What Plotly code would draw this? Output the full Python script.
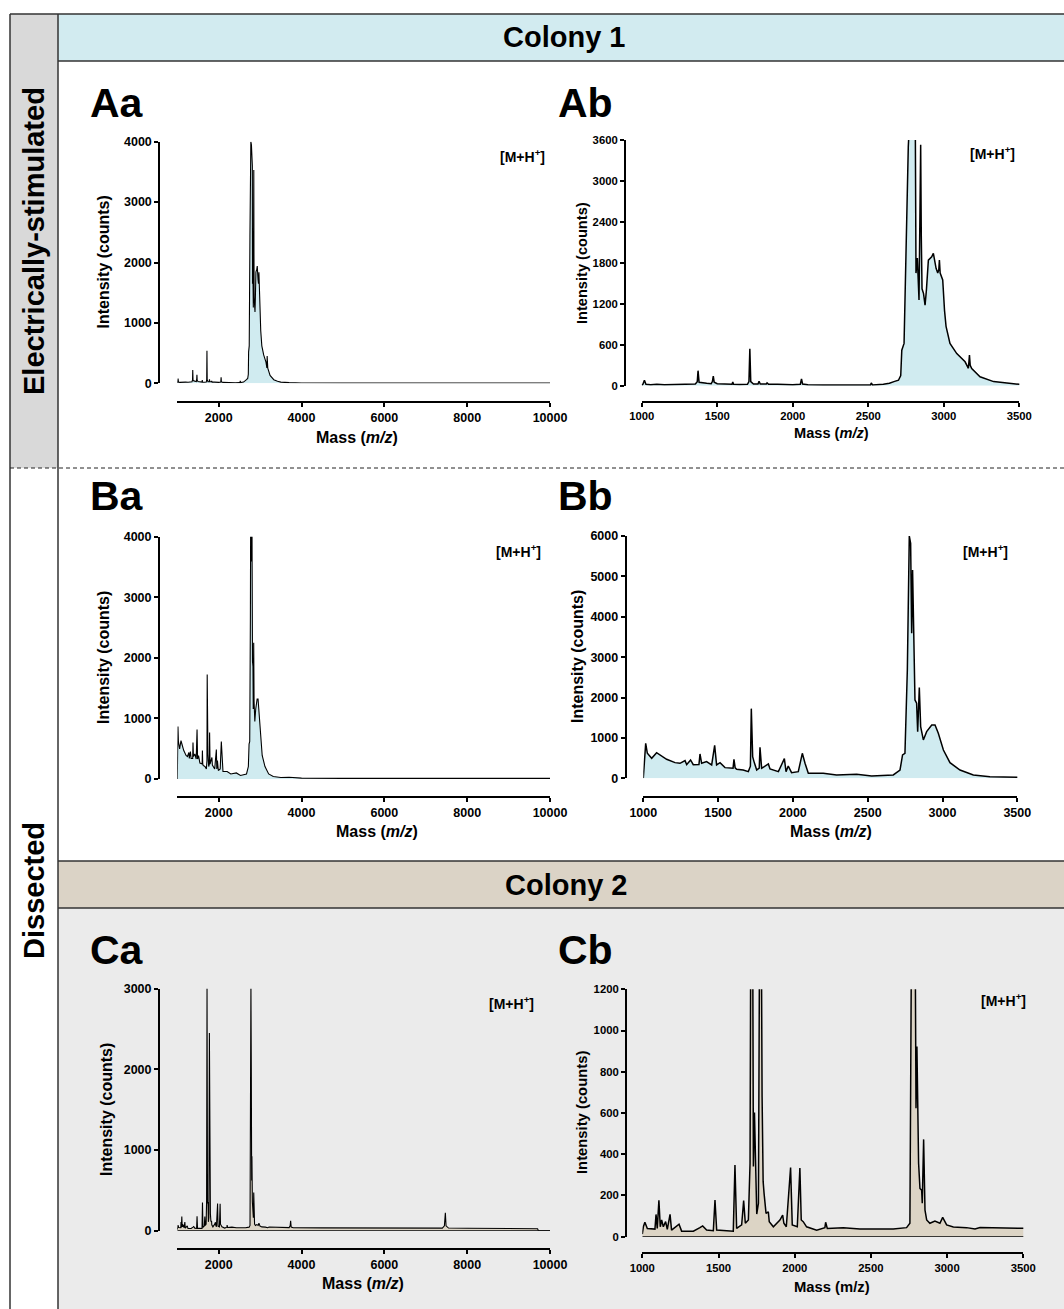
import plotly.graph_objects as go

W, H = 1064, 1309

# ---------------- data ----------------
# Colony 1, electrically-stimulated spectrum (panels Aa / Ab)
es_mass = [1000, 1008, 1018, 1028, 1060, 1100, 1150, 1200, 1260, 1300,
           1330, 1355, 1368, 1373, 1380, 1400, 1430, 1460, 1468, 1474,
           1480, 1500, 1550, 1598, 1603, 1608, 1650, 1700, 1710, 1716,
           1722, 1740, 1770, 1777, 1785, 1825, 1830, 1840, 1900, 1950,
           2000, 2050, 2058, 2065, 2100, 2200, 2300, 2400, 2500, 2515,
           2520, 2528, 2600, 2640, 2670, 2700, 2715, 2722, 2737, 2754,
           2765, 2776, 2790, 2805, 2812, 2816, 2825, 2836, 2843, 2847,
           2851, 2856, 2866, 2876, 2885, 2898, 2920, 2931, 2949, 2960,
           2967, 2971, 2976, 2993, 3005, 3015, 3041, 3086, 3141, 3163,
           3170, 3175, 3185, 3240, 3330, 3420, 3500, 3700, 4000, 5000,
           7000, 10000]
es_int = [10, 20, 80, 20, 15, 20, 15, 20, 18, 25,
          30, 25, 60, 220, 50, 40, 35, 30, 60, 140,
          50, 30, 20, 20, 55, 20, 18, 20, 60, 540,
          60, 25, 25, 65, 25, 25, 40, 20, 20, 15,
          15, 20, 100, 25, 15, 10, 10, 10, 12, 12,
          40, 12, 20, 35, 60, 80, 150, 520, 620, 2430,
          3500, 4000, 3950, 3700, 3600, 1650, 1870, 1255, 2500, 3530,
          2200, 1420, 1350, 1180, 1400, 1840, 1890, 1940, 1720, 1650,
          1700, 1840, 1650, 1550, 1100, 870, 620, 470, 350, 255,
          450, 300, 250, 130, 60, 35, 20, 12, 5, 3,
          3, 3]

# Colony 1, dissected spectrum (panels Ba / Bb)
ds_mass = [1000, 1016, 1027, 1056, 1089, 1111, 1156, 1212, 1245, 1279,
           1290, 1316, 1334, 1372, 1379, 1390, 1423, 1457, 1477, 1490,
           1513, 1546, 1600, 1606, 1614, 1624, 1668, 1702, 1716, 1722,
           1731, 1740, 1758, 1775, 1780, 1791, 1836, 1847, 1903, 1943,
           1954, 1969, 1991, 2036, 2063, 2081, 2103, 2203, 2292, 2426,
           2526, 2671, 2716, 2733, 2749, 2765, 2778, 2787, 2794, 2800,
           2807, 2816, 2827, 2834, 2845, 2854, 2872, 2894, 2928, 2950,
           2972, 3006, 3050, 3117, 3206, 3317, 3500, 3700, 4000, 5000,
           6700, 7700, 8500, 10000]
ds_int = [0, 866, 620, 495, 635, 578, 470, 388, 371, 437,
          338, 454, 338, 340, 602, 371, 413, 330, 817, 330,
          388, 264, 250, 470, 260, 223, 206, 165, 300, 1725,
          536, 413, 206, 250, 768, 248, 355, 231, 165, 487,
          165, 305, 140, 165, 619, 371, 124, 124, 83, 100,
          58, 83, 206, 578, 620, 2680, 6000, 5820, 3590, 5160,
          3510, 1940, 1860, 1155, 2250, 1280, 950, 1155, 1320, 1320,
          1115, 700, 388, 206, 83, 41, 25, 30, 15, 10,
          12, 12, 12, 10]

# Colony 2 spectrum (panels Ca / Cb)
c2_mass = [1000, 1007, 1017, 1033, 1083, 1090, 1098, 1109, 1118, 1127,
           1138, 1153, 1164, 1182, 1192, 1241, 1258, 1335, 1378, 1396,
           1422, 1466, 1477, 1488, 1597, 1608, 1619, 1652, 1665, 1676,
           1696, 1707, 1718, 1729, 1736, 1742, 1751, 1762, 1775, 1786,
           1793, 1799, 1812, 1827, 1833, 1860, 1903, 1921, 1929, 1945,
           1973, 1984, 2017, 2034, 2043, 2056, 2078, 2144, 2198, 2203,
           2214, 2319, 2428, 2647, 2734, 2756, 2778, 2787, 2796, 2802,
           2813, 2822, 2833, 2837, 2846, 2855, 2866, 2887, 2920, 2953,
           2971, 2997, 3041, 3128, 3183, 3216, 3303, 3500, 3600, 3700,
           3725, 3737, 3750, 3800, 4500, 5500, 6500, 7400, 7450, 7473,
           7490, 7550, 8000, 9000, 9700, 9720, 10000]
c2_int = [13, 48, 70, 40, 37, 108, 40, 176, 48, 81,
          48, 73, 36, 108, 32, 61, 27, 27, 44, 52,
          32, 29, 178, 32, 27, 348, 40, 57, 175, 65,
          81, 356, 3050, 340, 602, 356, 110, 162, 2450, 680,
          267, 210, 113, 121, 73, 48, 81, 105, 65, 48,
          336, 57, 48, 333, 81, 73, 48, 32, 44, 70,
          40, 44, 37, 37, 44, 65, 3050, 2000, 623, 922,
          356, 234, 226, 162, 472, 129, 81, 65, 76, 65,
          94, 57, 47, 44, 37, 45, 44, 44, 40, 38,
          60, 124, 45, 37, 35, 34, 33, 32, 60, 223,
          60, 33, 30, 26, 24, 0, 0]

wide_xticks = [2000, 4000, 6000, 8000, 10000]
zoom_xticks = [1000, 1500, 2000, 2500, 3000, 3500]
yticks_A_a = [0, 1000, 2000, 3000, 4000]
yticks_A_b = [0, 600, 1200, 1800, 2400, 3000, 3600]
yticks_B_a = [0, 1000, 2000, 3000, 4000]
yticks_B_b = [0, 1000, 2000, 3000, 4000, 5000, 6000]
yticks_C_a = [0, 1000, 2000, 3000]
yticks_C_b = [0, 200, 400, 600, 800, 1000, 1200]

BLUE_FILL = "rgb(208,235,240)"
TAN_FILL = "rgb(220,212,197)"
FONT = "Liberation Sans, Arial, Helvetica, sans-serif"

# panel geometry in pixels
panels = [
    dict(lab="Aa", m=es_mass, v=es_int, xr=[1000, 10000], yr=[0, 4000], xt=wide_xticks, yt=yticks_A_a,
         xd=(177.3, 550), yd=(141.7, 383.3), yl=159.3, xl=401.7, fill=BLUE_FILL, base=False,
         tf=12.5, af=16, lw=1.1, labxy=(88, 103), mh=(522, 156), yt_xy=(103, 262.5), xt_xy=(357, 437),
         xtitle="<b>Mass (<i>m/z</i>)</b>"),
    dict(lab="Ab", m=es_mass, v=es_int, xr=[1000, 3500], yr=[0, 3600], xt=zoom_xticks, yt=yticks_A_b,
         xd=(641.7, 1019.3), yd=(140, 385.7), yl=625, xl=401.7, fill=BLUE_FILL, base=False,
         tf=11.3, af=14.6, lw=1.5, labxy=(556, 103), mh=(992, 153), yt_xy=(582, 263), xt_xy=(831, 433),
         xtitle="<b>Mass (<i>m/z</i>)</b>"),
    dict(lab="Ba", m=ds_mass, v=ds_int, xr=[1000, 10000], yr=[0, 4000], xt=wide_xticks, yt=yticks_B_a,
         xd=(177.3, 550), yd=(536.7, 779), yl=159, xl=797.3, fill=BLUE_FILL, base=False,
         tf=12.5, af=16, lw=1.1, labxy=(88, 496), mh=(518, 551), yt_xy=(103, 658), xt_xy=(377, 831),
         xtitle="<b>Mass (<i>m/z</i>)</b>"),
    dict(lab="Bb", m=ds_mass, v=ds_int, xr=[1000, 3500], yr=[0, 6000], xt=zoom_xticks, yt=yticks_B_b,
         xd=(643.3, 1017.3), yd=(536, 778.3), yl=625.7, xl=796.7, fill=BLUE_FILL, base=False,
         tf=12.5, af=16, lw=1.5, labxy=(556, 496), mh=(985, 551), yt_xy=(577, 657), xt_xy=(831, 831),
         xtitle="<b>Mass (<i>m/z</i>)</b>"),
    dict(lab="Ca", m=c2_mass, v=c2_int, xr=[1000, 10000], yr=[0, 3000], xt=wide_xticks, yt=yticks_C_a,
         xd=(177.3, 550), yd=(988.7, 1230.7), yl=159, xl=1249, fill=TAN_FILL, base=True,
         tf=12.5, af=16, lw=1.1, labxy=(88, 950), mh=(511, 1003), yt_xy=(106, 1110), xt_xy=(363, 1283),
         xtitle="<b>Mass (<i>m/z</i>)</b>"),
    dict(lab="Cb", m=c2_mass, v=c2_int, xr=[1000, 3500], yr=[0, 1200], xt=zoom_xticks, yt=yticks_C_b,
         xd=(642.3, 1023.3), yd=(989.3, 1236.7), yl=626, xl=1253.3, fill=TAN_FILL, base=True,
         tf=11.3, af=14.8, lw=1.5, labxy=(556, 950), mh=(1003, 1000), yt_xy=(582, 1113), xt_xy=(832, 1287),
         xtitle="<b>Mass (m/z)</b>"),
]


def px(x):
    return x / W


def py(y):
    return 1 - y / H


fig = go.Figure()
layout = {}
annotations = []

for i, p in enumerate(panels):
    n = "" if i == 0 else str(i + 1)
    xa, ya = "x" + n, "y" + n
    fig.add_trace(go.Scatter(
        x=p["m"], y=p["v"], xaxis=xa, yaxis=ya, mode="lines",
        line=dict(color="black", width=p["lw"]), fill="tozeroy", fillcolor=p["fill"],
        hoverinfo="skip", showlegend=False))
    if p["base"]:
        fig.add_trace(go.Scatter(
            x=[p["m"][0], p["m"][-1]], y=[0, 0], xaxis=xa, yaxis=ya, mode="lines",
            line=dict(color="black", width=1.6), hoverinfo="skip", showlegend=False))
    tick_font = dict(family=FONT, size=p["tf"], color="black", weight="bold")
    layout["xaxis" + n] = dict(
        domain=[px(p["xd"][0]), px(p["xd"][1])], range=p["xr"], anchor="free",
        position=py(p["xl"]), showline=True, linecolor="black", linewidth=2,
        ticks="outside", ticklen=4, tickwidth=1.5, tickcolor="black", automargin=False,
        tickvals=p["xt"], ticktext=[str(t) for t in p["xt"]], showgrid=False, zeroline=False,
        tickfont=tick_font, fixedrange=True)
    layout["yaxis" + n] = dict(
        domain=[py(p["yd"][1]), py(p["yd"][0])], range=p["yr"], anchor="free",
        position=px(p["yl"]), showline=True, linecolor="black", linewidth=2,
        ticks="outside", ticklen=4, tickwidth=1.5, tickcolor="black", automargin=False,
        tickvals=p["yt"], ticktext=[str(t) for t in p["yt"]], showgrid=False, zeroline=False,
        tickfont=tick_font, fixedrange=True)
    # panel letter
    annotations.append(dict(x=px(p["labxy"][0]), y=py(p["labxy"][1]), xref="paper", yref="paper",
                            text="<b>" + p["lab"] + "</b>", showarrow=False, xanchor="left", yanchor="middle",
                            font=dict(family=FONT, size=41, color="black")))
    # [M+H+]
    annotations.append(dict(x=px(p["mh"][0]), y=py(p["mh"][1]), xref="paper", yref="paper",
                            text="<b>[M+H<sup>+</sup>]</b>", showarrow=False, xanchor="center", yanchor="middle",
                            font=dict(family=FONT, size=14, color="black")))
    # y title
    annotations.append(dict(x=px(p["yt_xy"][0]), y=py(p["yt_xy"][1]), xref="paper", yref="paper",
                            text="<b>Intensity (counts)</b>", textangle=-90, showarrow=False,
                            xanchor="center", yanchor="middle",
                            font=dict(family=FONT, size=p["af"], color="black")))
    # x title
    annotations.append(dict(x=px(p["xt_xy"][0]), y=py(p["xt_xy"][1]), xref="paper", yref="paper",
                            text=p["xtitle"], showarrow=False, xanchor="center", yanchor="middle",
                            font=dict(family=FONT, size=p["af"], color="black")))

# section headers / side labels
annotations += [
    dict(x=px(564), y=py(37), xref="paper", yref="paper", text="<b>Colony 1</b>", showarrow=False,
         xanchor="center", yanchor="middle", font=dict(family=FONT, size=29, color="black")),
    dict(x=px(566), y=py(885), xref="paper", yref="paper", text="<b>Colony 2</b>", showarrow=False,
         xanchor="center", yanchor="middle", font=dict(family=FONT, size=29, color="black")),
    dict(x=px(34), y=py(241), xref="paper", yref="paper", text="<b>Electrically-stimulated</b>",
         textangle=-90, showarrow=False, xanchor="center", yanchor="middle",
         font=dict(family=FONT, size=29, color="black")),
    dict(x=px(34), y=py(891), xref="paper", yref="paper", text="<b>Dissected</b>",
         textangle=-90, showarrow=False, xanchor="center", yanchor="middle",
         font=dict(family=FONT, size=29, color="black")),
]

EDGE = "#333333"
shapes = [
    # backgrounds
    dict(type="rect", xref="paper", yref="paper", x0=px(10), x1=px(58), y0=py(468), y1=py(14),
         fillcolor="rgb(217,217,217)", line=dict(width=0), layer="below"),
    dict(type="rect", xref="paper", yref="paper", x0=px(58), x1=1.0, y0=py(61), y1=py(14),
         fillcolor="rgb(210,235,240)", line=dict(width=0), layer="below"),
    dict(type="rect", xref="paper", yref="paper", x0=px(58), x1=1.0, y0=py(908), y1=py(861),
         fillcolor="rgb(219,211,198)", line=dict(width=0), layer="below"),
    dict(type="rect", xref="paper", yref="paper", x0=px(58), x1=1.0, y0=0, y1=py(908),
         fillcolor="rgb(235,235,235)", line=dict(width=0), layer="below"),
    # frame lines
    dict(type="line", xref="paper", yref="paper", x0=px(10), x1=1.0, y0=py(14), y1=py(14),
         line=dict(color=EDGE, width=1.5)),
    dict(type="line", xref="paper", yref="paper", x0=px(58), x1=1.0, y0=py(61), y1=py(61),
         line=dict(color=EDGE, width=1.5)),
    dict(type="line", xref="paper", yref="paper", x0=px(58), x1=1.0, y0=py(861), y1=py(861),
         line=dict(color=EDGE, width=1.5)),
    dict(type="line", xref="paper", yref="paper", x0=px(58), x1=1.0, y0=py(908), y1=py(908),
         line=dict(color=EDGE, width=1.5)),
    dict(type="line", xref="paper", yref="paper", x0=px(10), x1=px(10), y0=0, y1=py(14),
         line=dict(color=EDGE, width=1.5)),
    dict(type="line", xref="paper", yref="paper", x0=px(58), x1=px(58), y0=0, y1=py(14),
         line=dict(color=EDGE, width=1.5)),
    dict(type="line", xref="paper", yref="paper", x0=px(10), x1=1.0, y0=py(468), y1=py(468),
         line=dict(color="#222222", width=1, dash="4px,3px")),
]

fig.update_layout(
    width=W, height=H, autosize=False,
    margin=dict(l=0, r=0, t=0, b=0, pad=0, autoexpand=False),
    paper_bgcolor="white", plot_bgcolor="rgba(0,0,0,0)",
    showlegend=False, annotations=annotations, shapes=shapes,
    **layout)

fig.write_html("out.html", config={"displayModeBar": False})
